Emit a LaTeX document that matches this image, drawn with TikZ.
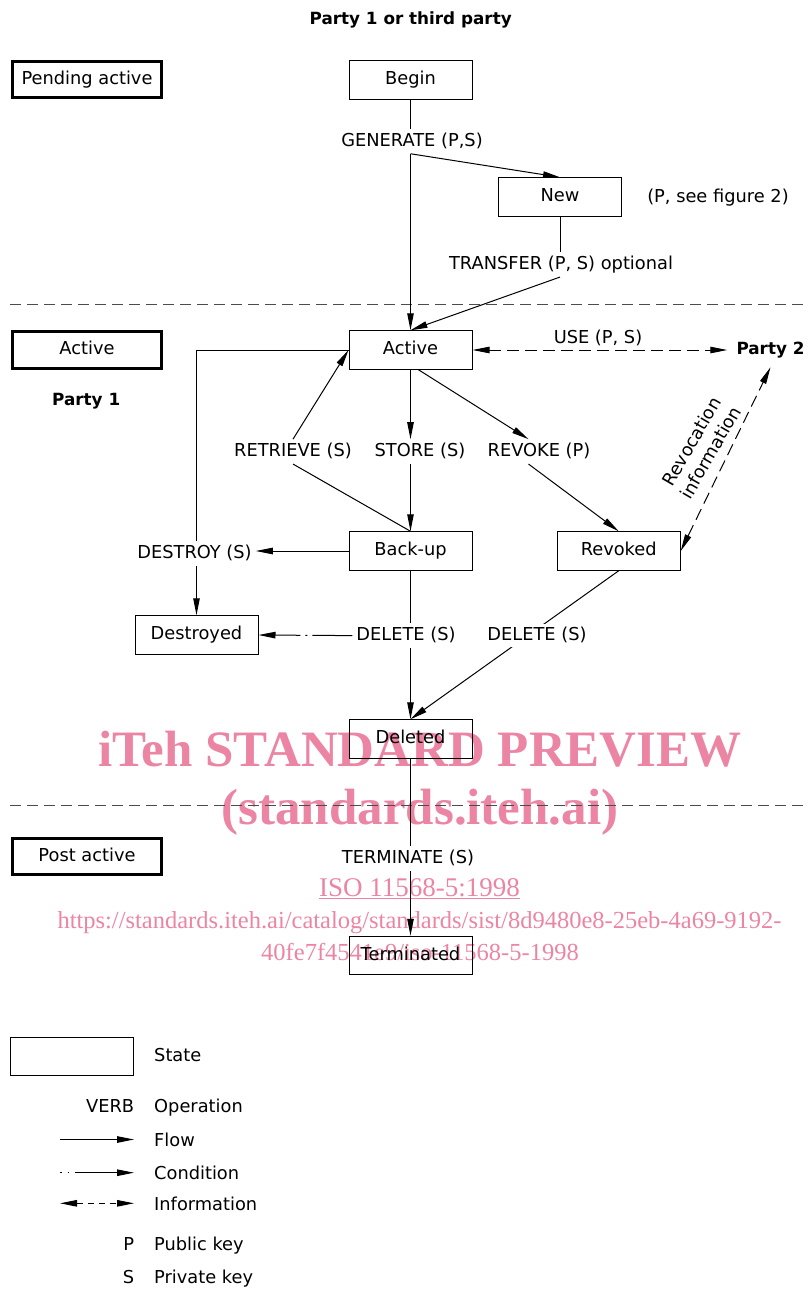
\documentclass[tikz,border=0pt]{standalone}
\usepackage{fontspec}
\setmainfont{DejaVu Sans}
\newfontfamily\wmfont{Liberation Serif}
\usetikzlibrary{arrows.meta}
\newcommand\dgreg{\fontsize{17.8}{21}\selectfont}
\newcommand\dgbold{\fontsize{16.8}{20}\selectfont\bfseries}
\definecolor{wmpink}{RGB}{235,133,163}
\begin{document}
\begin{tikzpicture}[x=1pt,y=-1pt,
  every node/.style={font=\dgreg},
  state/.style={draw, line width=1pt, minimum width=123pt, minimum height=38.5pt, inner sep=0pt, text height=13pt, text depth=3.5pt},
  phase/.style={draw, line width=2.8pt, minimum width=149pt, minimum height=36.5pt, inner sep=0pt, text height=13pt, text depth=3.5pt},
  lbl/.style={inner sep=4pt, text height=13pt, text depth=3.5pt},
  party/.style={font=\dgbold, inner sep=3pt, text height=12.5pt, text depth=3.5pt},
  conn/.style={line width=1pt},
  tip/.tip={Triangle[length=17pt,width=6.5pt]},
  flow/.style={conn, -tip},
  info/.style={conn, dash pattern=on 12pt off 6pt, tip-tip},
  cond/.style={conn, -tip, dash pattern=on 40pt off 5pt on 2pt off 5pt on 60pt},
  sep/.style={line width=1.2pt, black!70, dash pattern=on 11pt off 6pt},
  wm/.style={text=wmpink, anchor=base, inner sep=0pt}
]
\useasboundingbox (0,0) rectangle (807,1291);

% watermark (underneath)
\node[wm, font=\wmfont\fontsize{51}{51}\selectfont\bfseries] (wm1) at (420,766.7) {iTeh STANDARD PREVIEW};
\node[wm, font=\wmfont\fontsize{51}{51}\selectfont\bfseries] (wm2) at (420,824) {(standards.iteh.ai)};
\node[wm, font=\wmfont\fontsize{27}{27}\selectfont] (wm3) at (419.5,896.7) {\underline{ISO 11568-5:1998}};
\node[wm, font=\wmfont\fontsize{24.5}{25}\selectfont] (wm4) at (419.5,928) {https://standards.iteh.ai/catalog/standards/sist/8d9480e8-25eb-4a69-9192-};
\node[wm, font=\wmfont\fontsize{24.5}{25}\selectfont] (wm5) at (420,960) {40fe7f4541e9/iso-11568-5-1998};

% separators
\draw[sep] (10,304.5) -- (807,304.5);
\draw[sep] (10,805.5) -- (807,805.5);

% titles
\node[party] (p1t) at (410.7,20) {Party 1 or third party};
\node[party] (p1) at (86.2,401.3) {Party 1};
\node[party] (p2) at (770.5,350) {Party 2};

% phase boxes
\node[phase] (ph1) at (87,79.5) {Pending active};
\node[phase] (ph2) at (87,350) {Active};
\node[phase] (ph3) at (87,856.5) {Post active};

% states
\node[state] (Begin) at (410.5,80) {Begin};
\node[state] (New) at (560,197) {New};
\node[state] (Active) at (410.5,350) {Active};
\node[state] (Backup) at (410.5,551) {Back-up};
\node[state] (Revoked) at (618.7,551) {Revoked};
\node[state] (Destroyed) at (196.5,635) {Destroyed};
\node[state] (Deleted) at (410.5,739) {Deleted};
\node[state] (Terminated) at (410.5,955.5) {Terminated};

% operation labels
\node[lbl] (gen) at (412,141.3) {GENERATE (P,S)};
\node[lbl] (fig) at (718,197.6) {(P, see figure 2)};
\node[lbl] (tr) at (561,264.6) {TRANSFER (P, S) optional};
\node[lbl] (use) at (598,338.6) {USE (P, S)};
\node[lbl] (retr) at (293,451.6) {RETRIEVE (S)};
\node[lbl] (store) at (420,451.6) {STORE (S)};
\node[lbl] (revk) at (539,451.6) {REVOKE (P)};
\node[lbl] (dst) at (194.5,553.6) {DESTROY (S)};
\node[lbl] (del1) at (406,635.6) {DELETE (S)};
\node[lbl] (term) at (408,858.6) {TERMINATE (S)};
\node[rotate=60, align=center, inner sep=0pt, font=\fontsize{17.8}{22}\selectfont] (revinfo) at (701,447) {Revocation\\information};

% connectors
\draw[conn] (Begin.south) -- (Begin.south |- gen.north);
\draw[flow] (Begin.south |- gen.south) -- (Active.north);
\draw[flow] (Begin.south |- gen.south) -- (New.north);
\draw[conn] (New.south) -- (New.south |- tr.north);
\draw[flow] (New.south |- tr.south) -- (Active.north);
\draw[info] (Active.east) -- ([xshift=-6pt]p2.west);
\draw[conn] (Active.west) -| (Destroyed.north |- dst.north);
\draw[flow] (Destroyed.north |- dst.south) -- (Destroyed.north);
\draw[flow] (Backup.west) -- (Backup.west -| dst.east);
\draw[conn] (Backup.north) -- (retr.south);
\draw[flow] (retr.north) -- (Active.west);
\draw[flow] (Active.south) -- (Active.south |- store.north);
\draw[flow] (Active.south |- store.south) -- (Backup.north);
\draw[flow] ([xshift=8pt]Active.south) -- ([xshift=-10.5pt]revk.north);
\draw[flow] ([xshift=-10.5pt]revk.south) -- (Revoked.north);
\draw[info] (Revoked.east) -- ([yshift=-6pt]p2.south);
\draw[conn] (Backup.south) -- (Backup.south |- del1.north);
\draw[flow] (Backup.south |- del1.south) -- (Deleted.north);
\draw[cond] (del1.west) -- (Destroyed.east);
\draw[flow] (Revoked.south) -- (Deleted.north);
\node[lbl, fill=white, inner sep=3pt] (del2) at (537,635.6) {DELETE (S)};
\draw[conn] (Deleted.south) -- (Deleted.south |- term.north);
\draw[flow] (Deleted.south |- term.south) -- (Terminated.north);

% legend
\node[state] (legstate) at (72.3,1056.3) {};
\node[lbl, anchor=west, inner sep=3pt] (lstate) at (151,1056.6) {State};
\node[lbl, anchor=east, inner sep=3pt] (lverb) at (137.3,1107.4) {VERB};
\node[lbl, anchor=west, inner sep=3pt] (lop) at (151,1107.4) {Operation};
\coordinate (fa) at (60,1139.5);
\coordinate (fb) at (134,1139.5);
\draw[flow] (fa) -- (fb);
\node[lbl, anchor=west, inner sep=3pt] (lflow) at (151,1141.6) {Flow};
\coordinate (ca) at (60,1172.7);
\coordinate (cb) at (134,1172.7);
\draw[conn, -tip, dash pattern=on 1.5pt off 6pt on 1.5pt off 6pt on 100pt] (ca) -- (cb);
\node[lbl, anchor=west, inner sep=3pt] (lcond) at (151,1174.3) {Condition};
\coordinate (ia) at (60,1203.3);
\coordinate (ib) at (134,1203.3);
\draw[conn, tip-tip, dash pattern=on 6pt off 5pt] (ia) -- (ib);
\node[lbl, anchor=west, inner sep=3pt] (linfo) at (151,1205.3) {Information};
\node[lbl, anchor=east, inner sep=3pt] (lp) at (137.3,1245.6) {P};
\node[lbl, anchor=west, inner sep=3pt] (lpub) at (151,1245.6) {Public key};
\node[lbl, anchor=east, inner sep=3pt] (ls) at (137.3,1279) {S};
\node[lbl, anchor=west, inner sep=3pt] (lpriv) at (151,1279) {Private key};
\end{tikzpicture}
\end{document}
